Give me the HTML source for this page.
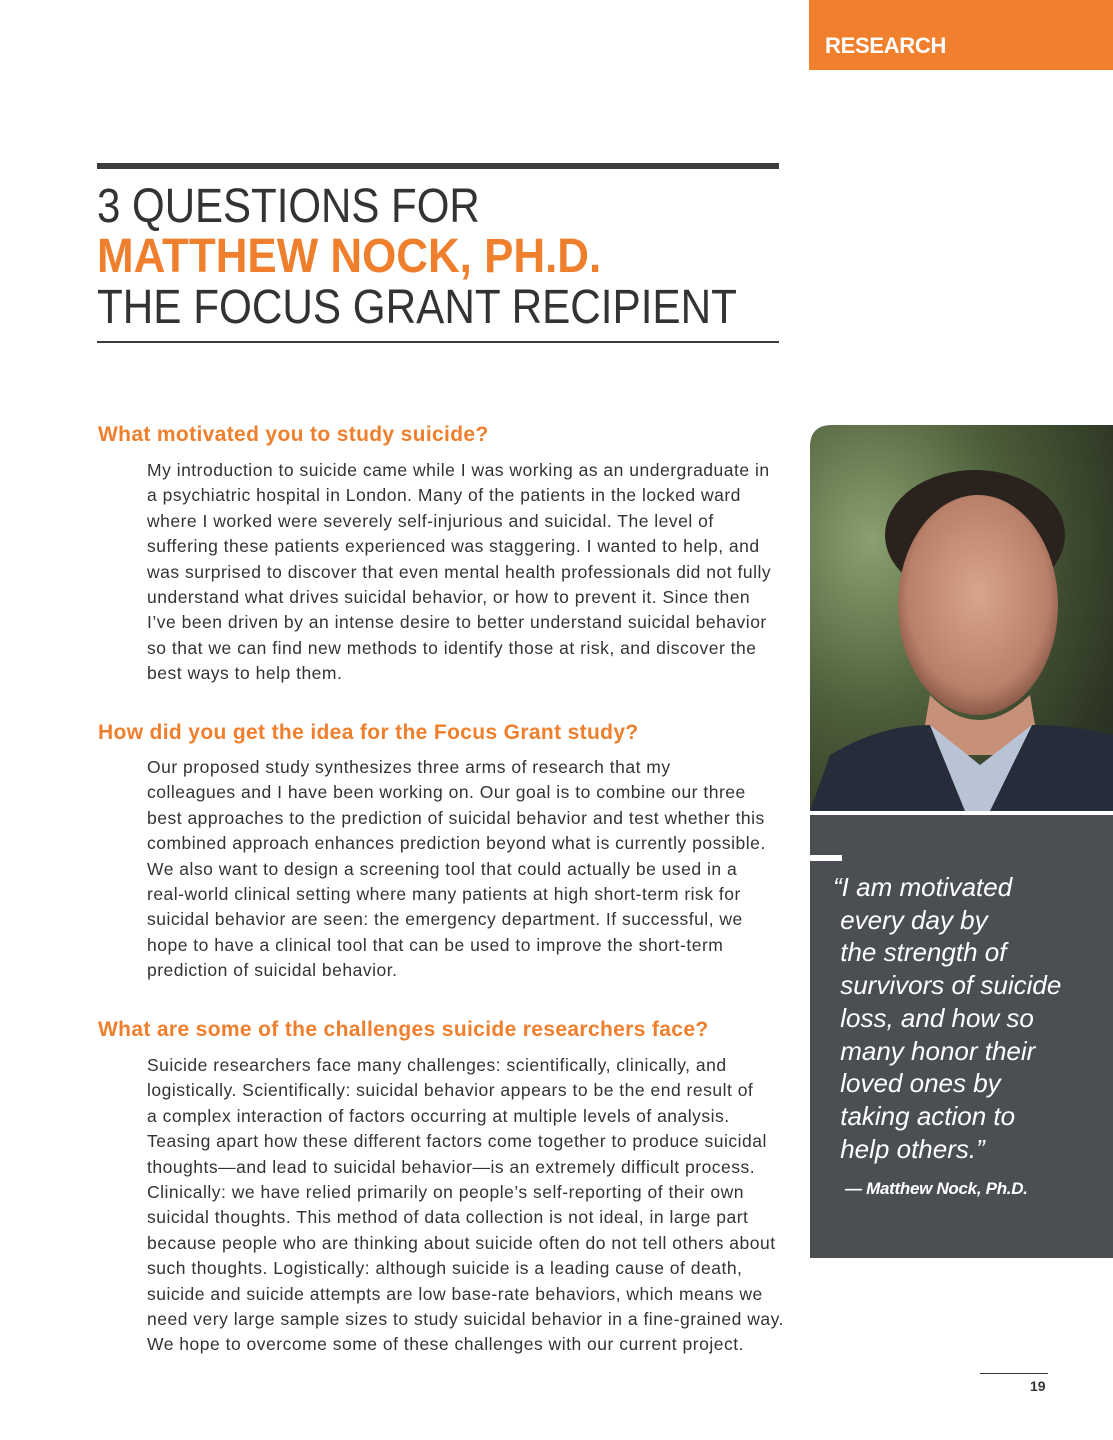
<!DOCTYPE html>
<html><head><meta charset="utf-8">
<style>
body{margin:0;width:1113px;height:1440px;background:#fff;position:relative;overflow:hidden;font-family:"Liberation Sans",sans-serif;color:#3a3a3a}
.abs{position:absolute}
.tab{left:809px;top:0;width:304px;height:70px;background:#f07f2e}
.tab span{position:absolute;left:16px;top:33px;color:#fff;font-weight:bold;font-size:22px;letter-spacing:-0.3px}
.t{left:97px;white-space:nowrap;font-size:48px;line-height:50px;transform-origin:left top;color:#333}
.h{left:98px;color:#ef7f2c;font-weight:bold;font-size:21px;white-space:nowrap;letter-spacing:0.35px}
.p{left:147px;font-size:17.5px;line-height:25.4px;white-space:nowrap;letter-spacing:0.5px;color:#333}
.q{left:833px;top:871px;color:#fff;font-style:italic;font-size:26px;line-height:32.7px;white-space:nowrap;letter-spacing:0px}
</style></head><body>
<div class="abs tab"><span>RESEARCH</span></div>
<div class="abs" style="left:97px;top:163px;width:682px;height:6px;background:#3d3d3d"></div>
<div class="abs t" style="top:182px;transform:scaleX(0.875)">3 QUESTIONS FOR</div>
<div class="abs t" style="top:232px;color:#ef7f2c;font-weight:bold;transform:scaleX(0.915)">MATTHEW NOCK, PH.D.</div>
<div class="abs t" style="top:283px;transform:scaleX(0.88)">THE FOCUS GRANT RECIPIENT</div>
<div class="abs" style="left:97px;top:341px;width:682px;height:2px;background:#3d3d3d"></div>

<div class="abs h" style="top:423px">What motivated you to study suicide?</div>
<div class="abs p" style="top:458px">My introduction to suicide came while I was working as an undergraduate in<br>a psychiatric hospital in London. Many of the patients in the locked ward<br>where I worked were severely self-injurious and suicidal. The level of<br>suffering these patients experienced was staggering. I wanted to help, and<br>was surprised to discover that even mental health professionals did not fully<br>understand what drives suicidal behavior, or how to prevent it. Since then<br>I’ve been driven by an intense desire to better understand suicidal behavior<br>so that we can find new methods to identify those at risk, and discover the<br>best ways to help them.</div>

<div class="abs h" style="top:721px">How did you get the idea for the Focus Grant study?</div>
<div class="abs p" style="top:755px">Our proposed study synthesizes three arms of research that my<br>colleagues and I have been working on. Our goal is to combine our three<br>best approaches to the prediction of suicidal behavior and test whether this<br>combined approach enhances prediction beyond what is currently possible.<br>We also want to design a screening tool that could actually be used in a<br>real-world clinical setting where many patients at high short-term risk for<br>suicidal behavior are seen: the emergency department. If successful, we<br>hope to have a clinical tool that can be used to improve the short-term<br>prediction of suicidal behavior.</div>

<div class="abs h" style="top:1018px">What are some of the challenges suicide researchers face?</div>
<div class="abs p" style="top:1053px">Suicide researchers face many challenges: scientifically, clinically, and<br>logistically. Scientifically: suicidal behavior appears to be the end result of<br>a complex interaction of factors occurring at multiple levels of analysis.<br>Teasing apart how these different factors come together to produce suicidal<br>thoughts—and lead to suicidal behavior—is an extremely difficult process.<br>Clinically: we have relied primarily on people’s self-reporting of their own<br>suicidal thoughts. This method of data collection is not ideal, in large part<br>because people who are thinking about suicide often do not tell others about<br>such thoughts. Logistically: although suicide is a leading cause of death,<br>suicide and suicide attempts are low base-rate behaviors, which means we<br>need very large sample sizes to study suicidal behavior in a fine-grained way.<br>We hope to overcome some of these challenges with our current project.</div>

<svg class="abs" style="left:810px;top:425px" width="303" height="386">
<defs>
<radialGradient id="bg" cx="0.2" cy="0.3" r="0.9"><stop offset="0" stop-color="#8aa070"/><stop offset="0.5" stop-color="#4d5e3a"/><stop offset="1" stop-color="#2b3322"/></radialGradient>
<radialGradient id="face" cx="0.5" cy="0.45" r="0.55"><stop offset="0" stop-color="#d9a58c"/><stop offset="0.8" stop-color="#b9806a"/><stop offset="1" stop-color="#8a5a48"/></radialGradient>
</defs>
<path d="M22 0H303V386H0V22Q0 0 22 0Z" fill="url(#bg)"/>
<ellipse cx="165" cy="110" rx="90" ry="65" fill="#2a221d"/>
<ellipse cx="168" cy="180" rx="80" ry="110" fill="url(#face)"/>
<path d="M120 270Q168 320 220 270L230 330H110Z" fill="#c79079"/>
<path d="M0 386L20 330Q70 300 120 300L155 386Z" fill="#262c3a"/>
<path d="M303 386V310Q265 300 222 300L180 386Z" fill="#262c3a"/>
<path d="M120 300L155 386H180L222 300L170 340Z" fill="#b8c4d6"/>
</svg>

<div class="abs" style="left:810px;top:815px;width:303px;height:443px;background:#4b4e53"></div>
<div class="abs" style="left:810px;top:855px;width:32px;height:6px;background:#fff"></div>
<div class="abs q">“I am motivated<br>&nbsp;every day by<br>&nbsp;the strength of<br>&nbsp;survivors of suicide<br>&nbsp;loss, and how so<br>&nbsp;many honor their<br>&nbsp;loved ones by<br>&nbsp;taking action to<br>&nbsp;help others.”</div>
<div class="abs" style="left:845px;top:1179px;color:#fff;font-style:italic;font-weight:bold;font-size:17px;letter-spacing:-0.3px;white-space:nowrap">— Matthew Nock, Ph.D.</div>

<div class="abs" style="left:980px;top:1373px;width:68px;height:1px;background:#333"></div>
<div class="abs" style="left:1030px;top:1378px;font-weight:bold;font-size:14px;color:#333">19</div>
</body></html>
